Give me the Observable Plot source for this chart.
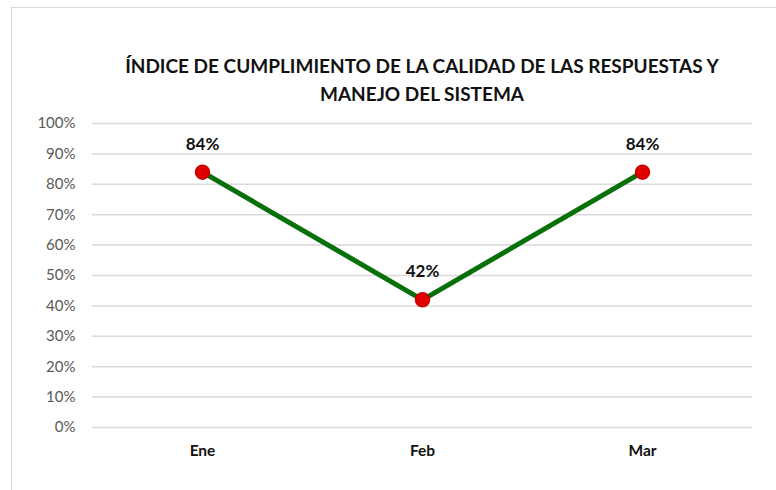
<!DOCTYPE html>
<html>
<head>
<meta charset="utf-8">
<script src="https://cdn.jsdelivr.net/npm/d3@7"></script>
<script src="https://cdn.jsdelivr.net/npm/@observablehq/plot@0.6"></script>
<style>
  html, body { margin: 0; padding: 0; background: #fff; overflow: hidden; }
  #wrap { position: relative; width: 776px; height: 490px; overflow: hidden; }
  #frame { position: absolute; left: 11px; top: 7px; width: 800px; height: 520px; border: 1px solid #d9d9d9; box-sizing: border-box; }
  #title { position: absolute; left: 72px; width: 700px; top: 52px; text-align: center;
    font-family: Lato, "Open Sans", sans-serif; font-weight: bold; font-size: 19px; line-height: 28px; color: #111; }
  #chart { position: absolute; left: 0; top: 0; }
</style>
</head>
<body>
<div id="wrap">
  <div id="frame"></div>
  <div id="chart"></div>
  <div id="title">ÍNDICE DE CUMPLIMIENTO DE LA CALIDAD DE LAS RESPUESTAS Y<br>MANEJO DEL SISTEMA</div>
</div>
<script>
const months = ["Ene", "Feb", "Mar"];
const values = [0.84, 0.42, 0.84];
const yTicks = [0, 0.1, 0.2, 0.3, 0.4, 0.5, 0.6, 0.7, 0.8, 0.9, 1.0];

const data = months.map((m, i) => ({month: m, value: values[i]}));

const chart = Plot.plot({
  width: 776,
  height: 490,
  marginLeft: 92,
  marginRight: 24,
  marginTop: 123,
  marginBottom: 63,
  style: {fontFamily: "Lato, 'Open Sans', sans-serif", background: "transparent"},
  x: {type: "point", domain: months, padding: 0.5, label: null},
  y: {domain: [0, 1], label: null},
  marks: [
    Plot.gridY(yTicks, {stroke: "#d9d9d9", strokeOpacity: 1, strokeWidth: 1.5}),
    Plot.axisY(yTicks, {tickFormat: d => Math.round(d * 100) + "%", tickSize: 0, tickPadding: 17,
      fontSize: 15, fill: "#595959", label: null}),
    Plot.axisX({tickSize: 0, tickPadding: 17, fontSize: 15.5, fontWeight: "bold", fill: "#111", label: null}),
    Plot.line(data, {x: "month", y: "value", stroke: "#087008", strokeWidth: 5}),
    Plot.dot(data, {x: "month", y: "value", r: 7, fill: "#e00000", stroke: "#c40000", strokeWidth: 1.5}),
    Plot.text(data, {x: "month", y: "value", text: d => Math.round(d.value * 100) + "%", dy: -28,
      fontSize: 17, fontWeight: "bold", fill: "#111"})
  ]
});
document.getElementById("chart").appendChild(chart);
</script>
</body>
</html>
